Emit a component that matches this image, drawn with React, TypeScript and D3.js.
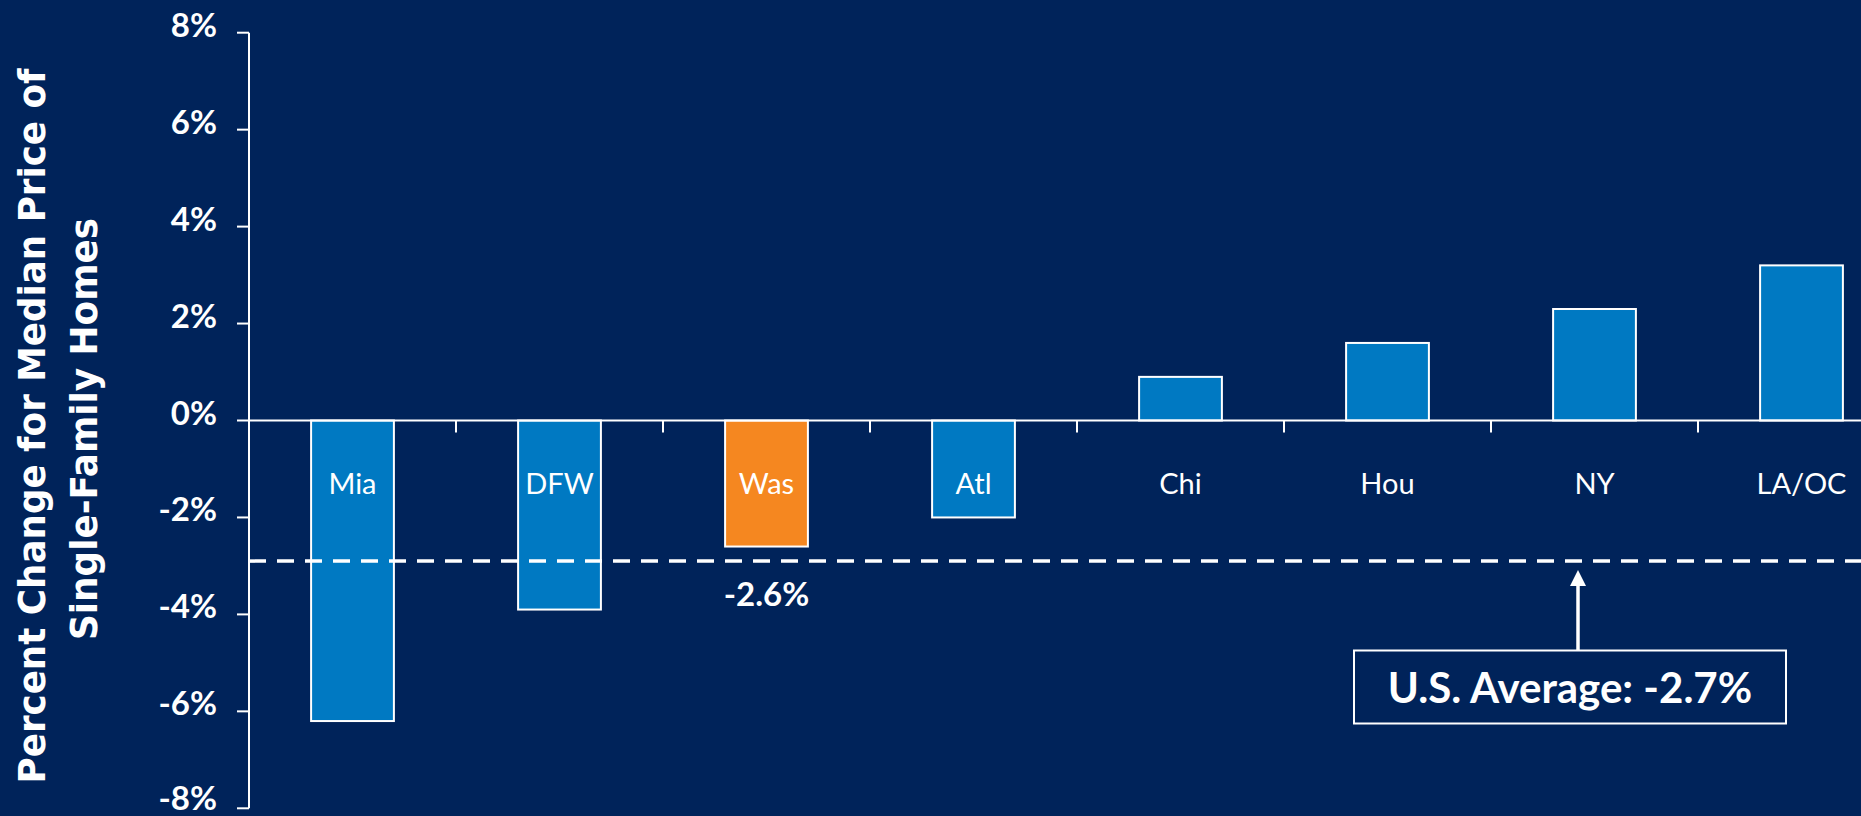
import React from "react";
import * as d3 from "d3";

const categories = ["Mia", "DFW", "Was", "Atl", "Chi", "Hou", "NY", "LA/OC"];
const values = [-6.2, -3.9, -2.6, -2.0, 0.9, 1.6, 2.3, 3.2];
const highlight = ["Was"];
const yTicks = [8, 6, 4, 2, 0, -2, -4, -6, -8];
const avgLineValue = -2.9;
const avgLabel = "U.S. Average: -2.7%";
const highlightLabel = "-2.6%";
const yTitle = ["Percent Change for Median Price of", "Single-Family Homes"];

const W = 1861;
const H = 816;
const BG = "#00235A";
const BLUE = "#0079C2";
const ORANGE = "#F58720";

export default function App() {
  const y = d3.scaleLinear().domain([-8, 8]).range([808.3, 32.7]);
  const x = d3
    .scaleBand<string>()
    .domain(categories)
    .range([249, 249 + 8 * 207])
    .paddingInner(0.6)
    .paddingOuter(0.3);
  const axisX = 249;
  const step = x.step();
  const y0 = y(0);
  const fmt = (v: number) => `${v}%`;
  const wasIdx = categories.indexOf(highlight[0]);
  const wasCx = (x(categories[wasIdx]) as number) + x.bandwidth() / 2;
  const avgY = y(avgLineValue);
  const arrowX = 1578;
  const boxX = 1354, boxY = 650.5, boxW = 432, boxH = 73;

  return (
    <svg
      width={W}
      height={H}
      style={{ position: "fixed", left: 0, top: 0, display: "block" }}
    >
      <rect x={0} y={0} width={W} height={H} fill={BG} />

      {/* Y axis title */}
      <g fontFamily="'DejaVu Sans', Verdana, sans-serif" fontWeight="bold" fill="#fff" fontSize={38}>
        <text transform={`translate(45,426) rotate(-90)`} textAnchor="middle" textLength={715} lengthAdjust="spacingAndGlyphs">
          {yTitle[0]}
        </text>
        <text transform={`translate(97,429) rotate(-90)`} textAnchor="middle" textLength={422} lengthAdjust="spacingAndGlyphs">
          {yTitle[1]}
        </text>
      </g>

      {/* Y axis */}
      <line x1={axisX} x2={axisX} y1={y(8)} y2={y(-8)} stroke="#fff" strokeWidth={2} />
      {yTicks.map((t) => (
        <g key={t}>
          <line x1={axisX - 12} x2={axisX} y1={y(t)} y2={y(t)} stroke="#fff" strokeWidth={2} />
          <text
            x={217}
            y={Math.min(y(t) + 4, 810)}
            textAnchor="end"
            fontFamily="Lato, sans-serif"
            fontWeight="bold"
            fontSize={33}
            fill="#fff"
          >
            {fmt(t)}
          </text>
        </g>
      ))}

      {/* Bars */}
      {categories.map((c, i) => {
        const v = values[i];
        const bx = x(c) as number;
        const top = y(Math.max(0, v));
        const bottom = y(Math.min(0, v));
        return (
          <rect
            key={c}
            x={bx}
            y={top}
            width={x.bandwidth()}
            height={bottom - top}
            fill={highlight.includes(c) ? ORANGE : BLUE}
            stroke="#fff"
            strokeWidth={2}
          />
        );
      })}

      {/* Zero line */}
      <line x1={axisX} x2={W} y1={y0} y2={y0} stroke="#fff" strokeWidth={2} />
      {categories.map((c, i) => (
        <line
          key={"t" + c}
          x1={axisX + (i + 1) * step}
          x2={axisX + (i + 1) * step}
          y1={y0}
          y2={y0 + 12}
          stroke="#fff"
          strokeWidth={2}
        />
      ))}

      {/* Category labels */}
      {categories.map((c) => (
        <text
          key={"l" + c}
          x={(x(c) as number) + x.bandwidth() / 2}
          y={494}
          textAnchor="middle"
          fontFamily="Lato, sans-serif"
          fontSize={29}
          fill="#fff"
        >
          {c}
        </text>
      ))}

      {/* Average dashed line */}
      <line
        x1={axisX}
        x2={W}
        y1={avgY}
        y2={avgY}
        stroke="#fff"
        strokeWidth={3.5}
        strokeDasharray="17 11"
      />

      {/* Highlight value label */}
      <text
        x={wasCx}
        y={606}
        textAnchor="middle"
        fontFamily="Lato, sans-serif"
        fontWeight="bold"
        fontSize={33}
        fill="#fff"
      >
        {highlightLabel}
      </text>

      {/* Arrow */}
      <line x1={arrowX} x2={arrowX} y1={boxY} y2={avgY + 22} stroke="#fff" strokeWidth={3.5} />
      <path
        d={`M${arrowX},${avgY + 9} L${arrowX - 8},${avgY + 25} L${arrowX + 8},${avgY + 25} Z`}
        fill="#fff"
      />

      {/* Average box */}
      <rect x={boxX} y={boxY} width={boxW} height={boxH} fill={BG} stroke="#fff" strokeWidth={2} />
      <text
        x={boxX + boxW / 2}
        y={703}
        textAnchor="middle"
        fontFamily="Lato, sans-serif"
        fontWeight="bold"
        fontSize={42}
        fill="#fff"
      >
        {avgLabel}
      </text>
    </svg>
  );
}
